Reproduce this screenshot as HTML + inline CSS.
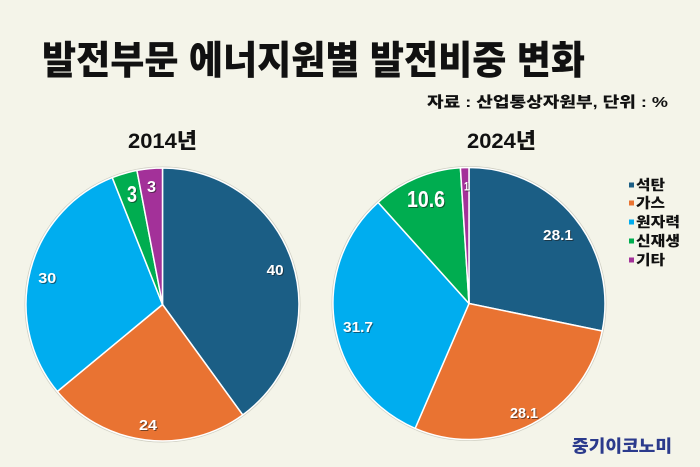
<!DOCTYPE html>
<html><head><meta charset="utf-8">
<style>
html,body{margin:0;padding:0;background:#f4f4e9;}
svg{display:block;}
.k{font-family:"Liberation Sans","Noto Sans CJK KR",sans-serif;font-weight:900;}
.n{font-family:"Liberation Sans",sans-serif;font-weight:bold;}
</style></head>
<body>
<svg width="700" height="467" viewBox="0 0 700 467" xmlns="http://www.w3.org/2000/svg">
<rect width="700" height="467" fill="#f4f4e9"/>
<text class="k" x="42" y="74" font-size="39" fill="#111" textLength="543" lengthAdjust="spacingAndGlyphs">발전부문 에너지원별 발전비중 변화</text>
<text class="k" x="427" y="107" font-size="15" fill="#111" textLength="241" lengthAdjust="spacingAndGlyphs">자료 : 산업통상자원부, 단위 : %</text>
<text class="k" x="128" y="148" font-size="21" fill="#111" textLength="69" lengthAdjust="spacingAndGlyphs">2014년</text>
<text class="k" x="467" y="148" font-size="21" fill="#111" textLength="69" lengthAdjust="spacingAndGlyphs">2024년</text>

<!-- left pie -->
<circle cx="162.5" cy="304.5" r="137.5" fill="none" stroke="#cfcfc2" stroke-width="1"/>
<g stroke="#ffffff" stroke-width="1.5" stroke-linejoin="round">
<path d="M162.5,304.5 L162.5,168 A136.5,136.5 0 0 1 242.73,414.93 Z" fill="#1b5e85"/>
<path d="M162.5,304.5 L242.73,414.93 A136.5,136.5 0 0 1 57.33,391.5 Z" fill="#e97332"/>
<path d="M162.5,304.5 L57.33,391.5 A136.5,136.5 0 0 1 112.25,177.58 Z" fill="#00adef"/>
<path d="M162.5,304.5 L112.25,177.58 A136.5,136.5 0 0 1 136.92,170.42 Z" fill="#00ad50"/>
<path d="M162.5,304.5 L136.92,170.42 A136.5,136.5 0 0 1 162.5,168 Z" fill="#a33199"/>
</g>

<!-- right pie -->
<circle cx="469" cy="303.5" r="137" fill="none" stroke="#cfcfc2" stroke-width="1"/>
<g stroke="#ffffff" stroke-width="1.5" stroke-linejoin="round">
<path d="M469,303.5 L469,167.5 A136,136 0 0 1 602.18,331.01 Z" fill="#1b5e85"/>
<path d="M469,303.5 L602.18,331.01 A136,136 0 0 1 415.14,428.38 Z" fill="#e97332"/>
<path d="M469,303.5 L415.14,428.38 A136,136 0 0 1 378.06,202.38 Z" fill="#00adef"/>
<path d="M469,303.5 L378.06,202.38 A136,136 0 0 1 460.41,167.77 Z" fill="#00ad50"/>
<path d="M469,303.5 L460.41,167.77 A136,136 0 0 1 469,167.5 Z" fill="#a33199"/>
</g>

<!-- labels: shadow -->
<g class="n" fill="#1a1a1a" fill-opacity="0.55">
<text x="267.7" y="276" font-size="15" textLength="17" lengthAdjust="spacingAndGlyphs">40</text>
<text x="140" y="431" font-size="15" textLength="18" lengthAdjust="spacingAndGlyphs">24</text>
<text x="39.3" y="284" font-size="15" textLength="18" lengthAdjust="spacingAndGlyphs">30</text>
<text x="128" y="203" font-size="23" textLength="10" lengthAdjust="spacingAndGlyphs">3</text>
<text x="148" y="193" font-size="16" textLength="9" lengthAdjust="spacingAndGlyphs">3</text>
<text x="544" y="241" font-size="15" textLength="30" lengthAdjust="spacingAndGlyphs">28.1</text>
<text x="511" y="419" font-size="15" textLength="28" lengthAdjust="spacingAndGlyphs">28.1</text>
<text x="344" y="333" font-size="15" textLength="30" lengthAdjust="spacingAndGlyphs">31.7</text>
<text x="408" y="208" font-size="23" textLength="38" lengthAdjust="spacingAndGlyphs">10.6</text>
<text x="465" y="191.5" font-size="12" textLength="5" lengthAdjust="spacingAndGlyphs">1</text>
</g>
<g class="n" fill="#ffffff">
<text x="266.7" y="275" font-size="15" textLength="17" lengthAdjust="spacingAndGlyphs">40</text>
<text x="139" y="430" font-size="15" textLength="18" lengthAdjust="spacingAndGlyphs">24</text>
<text x="38.3" y="283" font-size="15" textLength="18" lengthAdjust="spacingAndGlyphs">30</text>
<text x="127" y="202" font-size="23" textLength="10" lengthAdjust="spacingAndGlyphs">3</text>
<text x="147" y="192" font-size="16" textLength="9" lengthAdjust="spacingAndGlyphs">3</text>
<text x="543" y="240" font-size="15" textLength="30" lengthAdjust="spacingAndGlyphs">28.1</text>
<text x="510" y="418" font-size="15" textLength="28" lengthAdjust="spacingAndGlyphs">28.1</text>
<text x="343" y="332" font-size="15" textLength="30" lengthAdjust="spacingAndGlyphs">31.7</text>
<text x="407" y="207" font-size="23" textLength="38" lengthAdjust="spacingAndGlyphs">10.6</text>
<text x="464" y="190.5" font-size="12" textLength="5" lengthAdjust="spacingAndGlyphs">1</text>
</g>

<!-- legend -->
<rect x="629" y="182.5" width="5" height="5" fill="#1b5e85"/>
<rect x="629" y="200.5" width="5" height="5" fill="#e97332"/>
<rect x="629" y="219.5" width="5" height="5" fill="#00adef"/>
<rect x="629" y="238.5" width="5" height="5" fill="#00ad50"/>
<rect x="629" y="257.5" width="5" height="5" fill="#a33199"/>
<g class="k" font-size="14" fill="#111">
<text x="636" y="190" textLength="29" lengthAdjust="spacingAndGlyphs">석탄</text>
<text x="636" y="208" textLength="29" lengthAdjust="spacingAndGlyphs">가스</text>
<text x="636" y="227" textLength="44" lengthAdjust="spacingAndGlyphs">원자력</text>
<text x="636" y="246" textLength="44" lengthAdjust="spacingAndGlyphs">신재생</text>
<text x="636" y="265" textLength="29" lengthAdjust="spacingAndGlyphs">기타</text>
</g>

<text class="k" x="572" y="452" font-size="17" fill="#2b3a8c" textLength="100" lengthAdjust="spacingAndGlyphs">중기이코노미</text>
</svg>
</body></html>
